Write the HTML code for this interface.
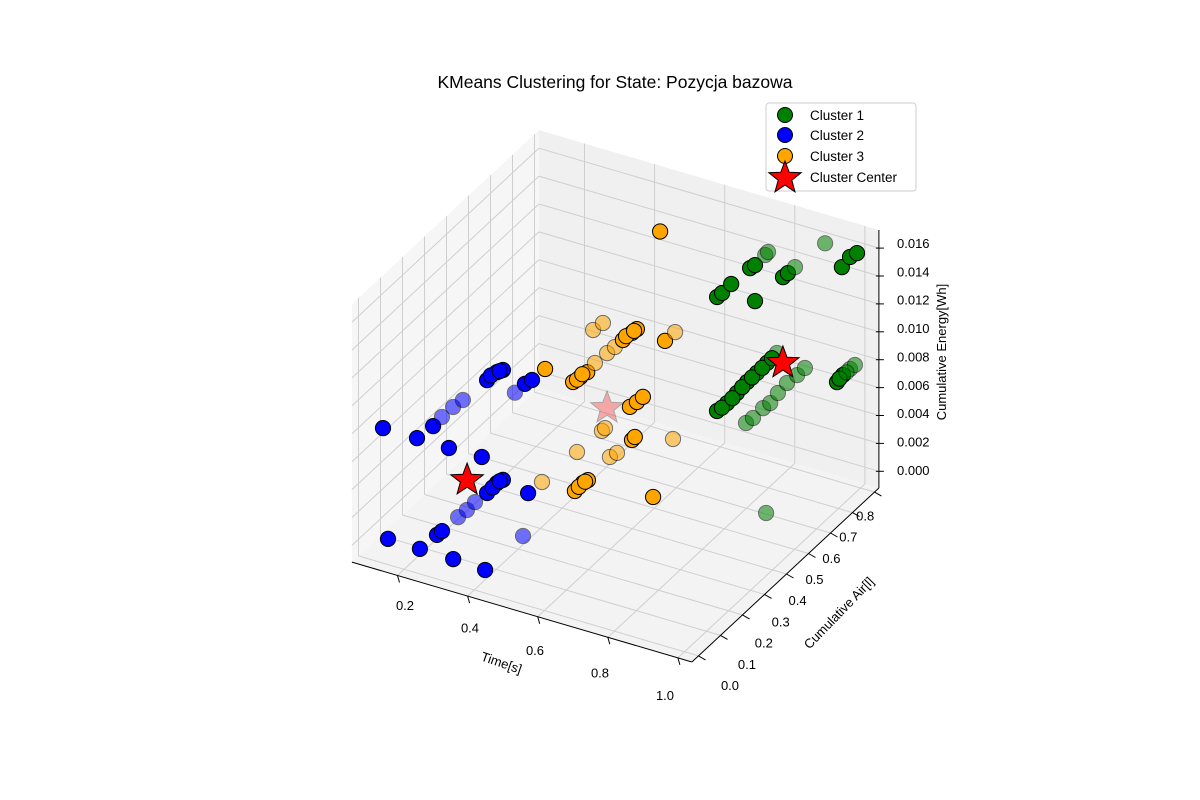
<!DOCTYPE html>
<html><head><meta charset="utf-8"><style>
html,body{margin:0;padding:0;background:#fff;}
svg{display:block;font-family:"Liberation Sans","DejaVu Sans",sans-serif;}
</style></head><body>
<svg id="chart" width="1200" height="800" viewBox="0 0 1200 800" xmlns="http://www.w3.org/2000/svg">
<rect width="1200" height="800" fill="#fff"/>
<text x="615" y="88" text-anchor="middle" font-size="17.5" fill="#000">KMeans Clustering for State: Pozycja bazowa</text>
<g id="panes"></g>
<g id="grid"></g>
<g id="axes"></g>
<g id="marks"></g>
<g id="legend">
<rect x="766" y="103" width="150" height="88" rx="3" fill="#fff" fill-opacity="0.8" stroke="#ccc"/>
<circle cx="785" cy="115" r="7.5" fill="green" stroke="#000"/>
<text x="810" y="120" font-size="13.5">Cluster 1</text>
<circle cx="785" cy="135" r="7.5" fill="blue" stroke="#000"/>
<text x="810" y="140" font-size="13.5">Cluster 2</text>
<circle cx="785" cy="156" r="7.5" fill="orange" stroke="#000"/>
<text x="810" y="161" font-size="13.5">Cluster 3</text>
<polygon id="legStar" fill="red" stroke="#000"/>
<text x="810" y="182" font-size="13.5">Cluster Center</text>
</g>
</svg>
<script>
// ---- data (time [s], cumulative air [l], cumulative energy [mWh]) ----
const c1Time = [0.947,0.970,0.990,0.685,0.699,0.728,0.736,0.779,0.793,0.813,0.591,0.605,0.631,0.699,0.716,0.745,0.773,0.802,0.830,0.859,0.887,0.736,0.756,0.785,0.805,0.827,0.853,0.882,0.904,0.933,0.950,0.970,0.984,0.919,0.899,0.73,0.76,0.788,0.816,0.845,0.873,0.94,0.96];
const c1Air  = [0.8,0.8,0.8,0.8,0.8,0.8,0.8,0.8,0.8,0.8,0.8,0.8,0.8,0.8,0.6,0.6,0.6,0.6,0.6,0.6,0.6,0.7,0.7,0.7,0.7,0.7,0.7,0.7,0.7,0.8,0.8,0.8,0.8,0.5,0.8,0.6,0.6,0.6,0.6,0.6,0.6,0.8,0.8];
const c1Energy = [14.25,15.14,15.57,12.24,12.56,13.5,13.77,12.29,12.68,13.26,9.47,9.86,10.7,9.98,5.16,5.94,6.87,7.87,8.73,9.66,10.58,2.98,3.48,4.41,4.92,5.80,6.71,7.49,8.16,5.90,6.53,7.11,7.50,0.81,15.6,5.5,6.4,7.4,8.3,9.2,10.1,6.2,6.8];
const c1Faded = [0,0,0,0,0,1,1,0,0,1,0,0,0,0,0,0,0,0,0,0,1,1,1,1,1,1,1,1,1,0,0,1,1,1,1,0,0,0,0,0,0,0,1];

const c2Time = [0.077,0.174,0.220,0.265,0.359,0.245,0.277,0.305,0.374,0.402,0.419,0.482,0.502,0.374,0.402,0.419,0.491,0.154,0.245,0.294,0.308,0.340,0.431,0.260,0.285,0.308,0.422,0.445,0.39,0.41,0.385,0.41];
const c2Air  = [0.1,0.1,0.1,0.1,0.1,0.1,0.1,0.1,0.1,0.1,0.1,0.1,0.1,0.1,0.1,0.1,0.1,0.0,0.0,0.0,0.0,0.0,0.0,0.15,0.15,0.15,0.15,0.15,0.1,0.1,0.1,0.1];
const c2Energy = [6.55,6.55,7.75,6.51,6.56,8.59,9.54,10.25,12.19,12.97,13.24,12.71,13.14,4.09,5.01,5.36,4.95,0.64,0.60,1.96,2.34,0.57,0.46,0.79,1.48,2.22,10.9,0.80,4.6,5.2,12.6,13.1];
const c2Faded = [0,0,0,0,0,1,1,1,0,0,0,0,0,0,0,0,0,0,0,0,0,0,0,1,1,1,1,1,0,0,0,0];

const c3Time = [0.414,0.494,0.514,0.534,0.556,0.591,0.613,0.636,0.662,0.676,0.551,0.579,0.756,0.785,0.656,0.676,0.693,0.576,0.585,0.662,0.670,0.505,0.599,0.619,0.779,0.405,0.499,0.522,0.536,0.722,0.491,0.51,0.528,0.645,0.668,0.505,0.52];
const c3Air  = [0.3,0.3,0.3,0.3,0.3,0.3,0.3,0.3,0.3,0.3,0.3,0.3,0.3,0.3,0.3,0.3,0.3,0.3,0.3,0.3,0.3,0.3,0.3,0.3,0.3,0.3,0.3,0.3,0.3,0.3,0.7,0.3,0.3,0.3,0.3,0.3,0.3];
const c3Energy = [10.34,10.0,10.5,11.0,11.82,12.79,13.39,14.06,14.76,15.14,14.15,14.86,14.88,15.73,9.41,9.91,10.40,7.10,7.37,7.08,7.36,5.06,5.40,5.84,8.02,2.17,2.22,2.97,3.28,3.44,14.9,2.6,3.1,14.4,14.95,10.25,10.75];
const c3Faded = [0,0,0,0,1,1,1,0,0,0,1,1,0,1,0,0,0,1,1,0,0,1,1,1,1,1,0,0,0,0,0,0,0,0,0,0,0];

const centerTime = [0.904,0.317,0.465];
const centerAir = [0.6,0.1,0.5];
const centerEnergy = [9.99,4.60,4.98];
const centerFaded = [0,0,1];

const timeTicks = [0.2,0.4,0.6,0.8,1.0];
const timeTickLabels = ["0.2","0.4","0.6","0.8","1.0"];
const airTicks = [0.0,0.1,0.2,0.3,0.4,0.5,0.6,0.7,0.8];
const airTickLabels = ["0.0","0.1","0.2","0.3","0.4","0.5","0.6","0.7","0.8"];
const energyTicks = [0,0.002,0.004,0.006,0.008,0.010,0.012,0.014,0.016];
const energyTickLabels = ["0.000","0.002","0.004","0.006","0.008","0.010","0.012","0.014","0.016"];

// ---- projection ----
const T0=0.07,T1=1.04,A0=-0.03,A1=0.82,E0=-0.0012,E1=0.0173;
function P(t,a,e){ return [334+350.5*t+220*a, 532+103*t-204.7*a-13946*e]; }
const NS="http://www.w3.org/2000/svg";
function mk(tag,attrs,parent){const el=document.createElementNS(NS,tag);for(const k in attrs)el.setAttribute(k,attrs[k]);parent.appendChild(el);return el;}
function pts(arr){return arr.map(p=>p[0].toFixed(1)+","+p[1].toFixed(1)).join(" ");}

const panes=document.getElementById('panes');
let pf=mk('polygon',{points:pts([P(T0,A0,E0),P(T1,A0,E0),P(T1,A1,E0),P(T0,A1,E0)]),fill:'#f3f3f3'},panes);


let pl=mk('polygon',{points:pts([P(T0,A0,E0),P(T0,A1,E0),P(T0,A1,E1),P(T0,A0,E1)]),fill:'#f6f6f6'},panes);


let pb=mk('polygon',{points:pts([P(T0,A1,E0),P(T1,A1,E0),P(T1,A1,E1),P(T0,A1,E1)]),fill:'#f0f0f0'},panes);



const grid=document.getElementById('grid');
function gl(a,b,name){const p=mk('polyline',{points:pts([a,b]),stroke:'#cfcfcf','stroke-width':1,fill:'none'},grid);}
timeTicks.forEach(t=>{gl(P(t,A0,E0),P(t,A1,E0),'grid-time-floor');gl(P(t,A1,E0),P(t,A1,E1),'grid-time-back');});
airTicks.forEach(a=>{gl(P(T0,a,E0),P(T1,a,E0),'grid-air-floor');gl(P(T0,a,E0),P(T0,a,E1),'grid-air-left');});
energyTicks.forEach(e=>{gl(P(T0,A0,e),P(T0,A1,e),'grid-energy-left');gl(P(T0,A1,e),P(T1,A1,e),'grid-energy-back');});

const axes=document.getElementById('axes');
function axl(a,b,name){const p=mk('polyline',{points:pts([a,b]),stroke:'#000','stroke-width':1,fill:'none'},axes);}
axl(P(T0,A0,E0),P(T1,A0,E0),'x-axis-line');
axl(P(T1,A0,E0),P(T1,A1,E0),'y-axis-line');
axl(P(T1,A1,E0),P(T1,A1,E1),'z-axis-line');
function tlab(x,y,s,anchor,name){const el=mk('text',{x:x,y:y,'font-size':13,'text-anchor':anchor},axes);el.textContent=s;}
timeTicks.forEach((t,i)=>{const p=P(t,A0,E0);axl(p,[p[0]+2,p[1]+7],'x-tick');tlab(405+(t-0.2)*325,610+(t-0.2)*112.5,timeTickLabels[i],'middle','x-tick-label');});
airTicks.forEach((a,i)=>{const p=P(T1,a,E0);axl(p,[p[0]+7,p[1]+4],'y-tick');tlab(730+a*169,690-a*212,airTickLabels[i],'middle','y-tick-label');});
energyTicks.forEach((e,i)=>{const p=P(T1,A1,e);axl([p[0]-3,p[1]],[p[0]+5,p[1]],'z-tick');tlab(897,475-e*14190,energyTickLabels[i],'start','z-tick-label');});
let xt=mk('text',{x:0,y:0,'font-size':13,'text-anchor':'middle',transform:'translate(500,667) rotate(19)'},axes);xt.textContent='Time[s]';


let yt=mk('text',{x:0,y:0,'font-size':13,'text-anchor':'middle',transform:'translate(842,616) rotate(-46)'},axes);yt.textContent='Cumulative Air[l]';


let zt=mk('text',{x:0,y:0,'font-size':13,'text-anchor':'middle',transform:'translate(946,352) rotate(-90)'},axes);zt.textContent='Cumulative Energy[Wh]';



function starPts(cx,cy,R){const r=R*0.42,o=[];for(let i=0;i<10;i++){const ang=-Math.PI/2+i*Math.PI/5;const rr=i%2?r:R;o.push([cx+rr*Math.cos(ang),cy+rr*Math.sin(ang)]);}return pts(o);}
document.getElementById('legStar').setAttribute('points',starPts(785,178,17));

const marks=document.getElementById('marks');
function series(T,A,E,F,color,name){
  const g=mk('g',{},marks);
  
  
  for(let i=0;i<T.length;i++){
    const p=P(T[i],A[i],E[i]/1000);
    const c=mk('circle',{cx:p[0].toFixed(1),cy:p[1].toFixed(1),r:7.6,fill:color,stroke:'#000','stroke-width':1,opacity:F[i]?0.55:1},g);
    
    
  }
}
series(c1Time,c1Air,c1Energy,c1Faded,'green','cluster-1');
series(c2Time,c2Air,c2Energy,c2Faded,'blue','cluster-2');
series(c3Time,c3Air,c3Energy,c3Faded,'orange','cluster-3');
const cg=mk('g',{},marks);


for(let i=0;i<centerTime.length;i++){
  const p=P(centerTime[i],centerAir[i],centerEnergy[i]/1000);
  const s=mk('polygon',{points:starPts(p[0],p[1],17),fill:'red',stroke:'#000','stroke-width':1,opacity:centerFaded[i]?0.3:1},cg);
  
  
}
</script>
</body></html>
